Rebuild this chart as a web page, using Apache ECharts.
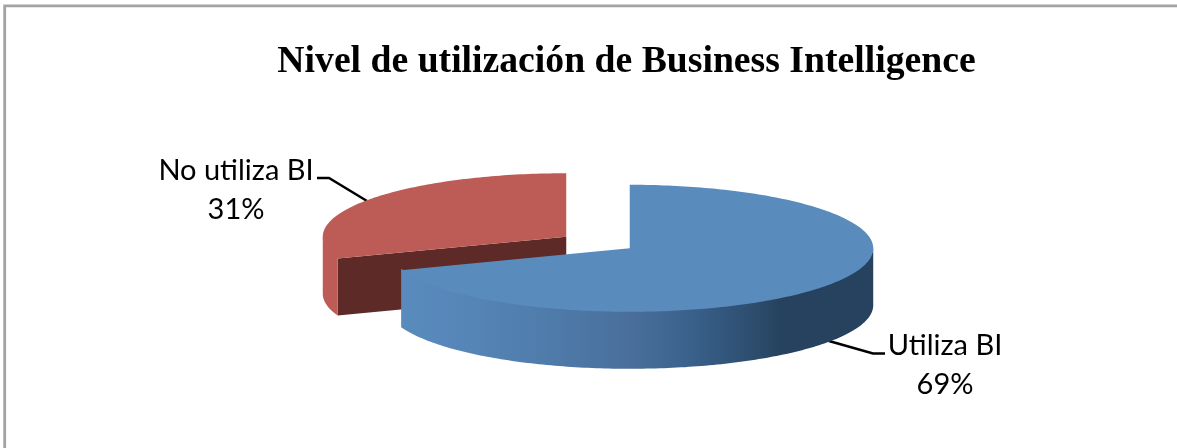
<!DOCTYPE html>
<html>
<head>
<meta charset="utf-8">
<style>html,body{margin:0;padding:0;background:#fff}#c{width:1177px;height:448px}</style>
<script src="https://cdn.jsdelivr.net/npm/echarts@6/dist/echarts.min.js"></script>
</head>
<body>
<div id="c"></div>
<script>
const chartTitle = 'Nivel de utilización de Business Intelligence';
const categories = ['Utiliza BI', 'No utiliza BI'];
const shares = [69.4, 30.6];
const percentLabels = ['69%', '31%'];

const total = shares.reduce((a, b) => a + b, 0);
const pieCenter = [598, 242.5], RX = 243.5, RY = 63.5, DEPTH = 57, EXPLODE = 38.7;
const topColors = ['#5a8bbd', '#bd5c56'];
const wallColors = ['#27425f', '#5e2a27'];
const sideFills = [
  { type: 'linear', x: 0, y: 0, x2: 1, y2: 0, colorStops: [
    { offset: 0, color: '#5a8bbd' }, { offset: 0.1, color: '#5787ba' },
    { offset: 0.3, color: '#4f7cab' }, { offset: 0.48, color: '#4a6f9c' },
    { offset: 0.62, color: '#39608a' }, { offset: 0.76, color: '#2b4b6b' },
    { offset: 0.8, color: '#27425f' }, { offset: 1, color: '#27425f' } ] },
  '#bd5c56'
];
const labelAnchors = [[945, 365], [236, 190]];
const leaderPaths = [
  [[829, 341], [873, 353.5], [885, 353.5]],
  [[317, 178], [329, 178], [367, 201]]
];
const drawLayer = [2, 1];

function renderSlice(params, api) {
  const i = params.dataIndex;
  let before = 0;
  for (let k = 0; k < i; k++) before += shares[k];
  const start = before / total * 360;
  const end = start + api.value(0) / total * 360;
  const mid = (start + end) / 2 * Math.PI / 180;
  const cx = pieCenter[0] + EXPLODE * Math.sin(mid);
  const cy = pieCenter[1] - EXPLODE * Math.cos(mid) * RY / RX;
  const pt = (deg, dz) => {
    const a = deg * Math.PI / 180;
    return [cx + RX * Math.sin(a), cy - RY * Math.cos(a) + dz];
  };
  const arc = (a, b, dz) => {
    const out = [], n = Math.max(2, Math.ceil((b - a) / 1));
    for (let s = 0; s <= n; s++) out.push(pt(a + (b - a) * s / n, dz));
    return out;
  };
  const z = drawLayer[i] * 10;
  const kids = [];
  const poly = (points, fill, zz) => kids.push({
    type: 'polygon', shape: { points }, z2: z + zz,
    style: { fill, stroke: null }, silent: true
  });
  const wall = deg => {
    const p = pt(deg, 0);
    poly([[cx, cy], p, [p[0], p[1] + DEPTH], [cx, cy + DEPTH]], wallColors[i], 0);
  };
  if (start > 180 && start < 360) wall(start);
  if (end > 0 && end < 180) wall(end);
  const a = Math.max(start, 90), b = Math.min(end, 270);
  if (b > a) {
    poly(arc(a, b, -1.5).concat(arc(a, b, DEPTH).reverse()), sideFills[i], 1);
  }
  poly([[cx, cy]].concat(arc(start, end, 0)), topColors[i], 2);
  kids.push({
    type: 'polyline', shape: { points: leaderPaths[i] }, z2: z - 5, silent: true,
    style: { stroke: '#000', lineWidth: 2.5, fill: null }
  });
  kids.push({
    type: 'text', z2: 100, silent: true,
    style: {
      text: categories[i] + '\n' + percentLabels[i],
      x: labelAnchors[i][0], y: labelAnchors[i][1],
      align: 'center', verticalAlign: 'middle',
      font: '29px Lato', lineHeight: 38.5, fill: '#000'
    }
  });
  return { type: 'group', children: kids };
}

const chart = echarts.init(document.getElementById('c'), null, { renderer: 'canvas' });
chart.setOption({
  animation: false,
  backgroundColor: '#fff',
  title: {
    text: chartTitle, left: 621.5, top: 57.5, textAlign: 'center', textVerticalAlign: 'middle',
    textStyle: { fontFamily: 'Liberation Serif', fontWeight: 'bold', fontSize: 37.7, color: '#000' }
  },
  graphic: [{
    type: 'polyline', silent: true, z: -1,
    shape: { points: [[4.7, 448], [4.7, 5.8], [1177, 5.8]] },
    style: { fill: 'none', stroke: '#a3a3a3', lineWidth: 2.8 }
  }],
  series: [{
    type: 'custom',
    coordinateSystem: 'none',
    renderItem: renderSlice,
    data: shares.map((v, i) => ({ name: categories[i], value: [v] }))
  }]
});
</script>
</body>
</html>
